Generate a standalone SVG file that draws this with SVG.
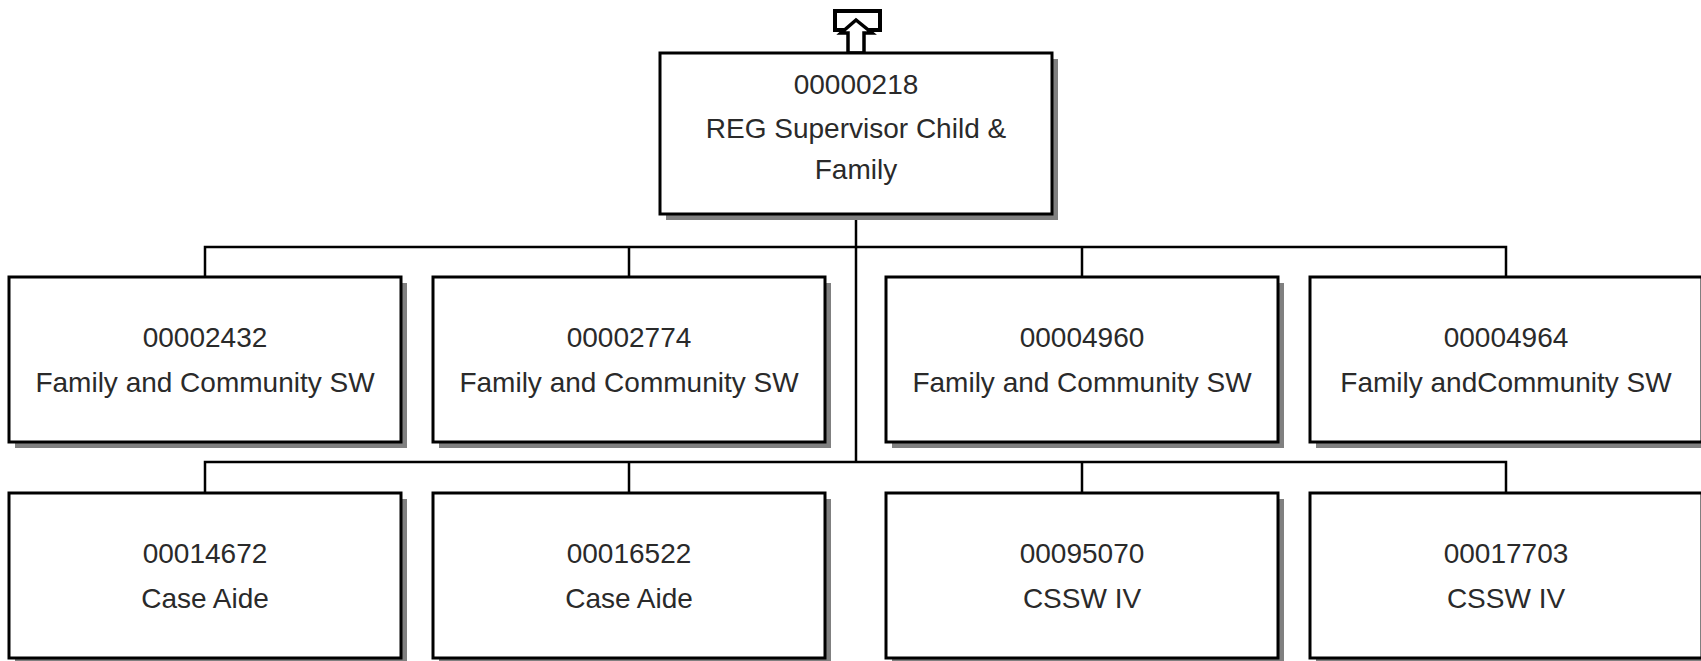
<svg xmlns="http://www.w3.org/2000/svg" width="1701" height="661" viewBox="0 0 1701 661">
<style>
.shadow{fill:#808080;stroke:none}
.box{fill:#fff;stroke:#000;stroke-width:3}
.conn{fill:none;stroke:#000;stroke-width:2.5}
text{font-family:"Liberation Sans",Arial,sans-serif;font-size:28px;fill:#2a2a2a;text-anchor:middle}
</style>
<rect width="1701" height="661" fill="#fff"/>
<g id="connectors">
<path class="conn" d="M856,214 V462"/>
<path class="conn" d="M205,277 V247 H1506 V277 M629,247 V277 M1082,247 V277"/>
<path class="conn" d="M205,493 V462 H1506 V493 M629,462 V493 M1082,462 V493"/>
</g>
<g id="up-arrow">
<rect x="835" y="11" width="45" height="19" fill="#fff" stroke="#000" stroke-width="4"/>
<polygon points="856,20 841,33 848,33 848,53 864,53 864,33 872,33" fill="#fff" stroke="#000" stroke-width="3.5" stroke-linejoin="miter"/>
</g>
<g id="n00000218">
<rect class="shadow" x="666" y="59" width="392" height="161"/>
<rect class="box" x="660" y="53" width="392" height="161"/>
<text x="856" y="94">00000218</text>
<text x="856" y="138">REG Supervisor Child &amp;</text>
<text x="856" y="179">Family</text>
</g>
<g id="n00002432">
<rect class="shadow" x="15" y="283" width="392" height="165"/>
<rect class="box" x="9" y="277" width="392" height="165"/>
<text x="205" y="347">00002432</text>
<text x="205" y="392">Family and Community SW</text>
</g>
<g id="n00002774">
<rect class="shadow" x="439" y="283" width="392" height="165"/>
<rect class="box" x="433" y="277" width="392" height="165"/>
<text x="629" y="347">00002774</text>
<text x="629" y="392">Family and Community SW</text>
</g>
<g id="n00004960">
<rect class="shadow" x="892" y="283" width="392" height="165"/>
<rect class="box" x="886" y="277" width="392" height="165"/>
<text x="1082" y="347">00004960</text>
<text x="1082" y="392">Family and Community SW</text>
</g>
<g id="n00004964">
<rect class="shadow" x="1316" y="283" width="392" height="165"/>
<rect class="box" x="1310" y="277" width="392" height="165"/>
<text x="1506" y="347">00004964</text>
<text x="1506" y="392">Family andCommunity SW</text>
</g>
<g id="n00014672">
<rect class="shadow" x="15" y="499" width="392" height="165"/>
<rect class="box" x="9" y="493" width="392" height="165"/>
<text x="205" y="563">00014672</text>
<text x="205" y="608">Case Aide</text>
</g>
<g id="n00016522">
<rect class="shadow" x="439" y="499" width="392" height="165"/>
<rect class="box" x="433" y="493" width="392" height="165"/>
<text x="629" y="563">00016522</text>
<text x="629" y="608">Case Aide</text>
</g>
<g id="n00095070">
<rect class="shadow" x="892" y="499" width="392" height="165"/>
<rect class="box" x="886" y="493" width="392" height="165"/>
<text x="1082" y="563">00095070</text>
<text x="1082" y="608">CSSW IV</text>
</g>
<g id="n00017703">
<rect class="shadow" x="1316" y="499" width="392" height="165"/>
<rect class="box" x="1310" y="493" width="392" height="165"/>
<text x="1506" y="563">00017703</text>
<text x="1506" y="608">CSSW IV</text>
</g>
</svg>
